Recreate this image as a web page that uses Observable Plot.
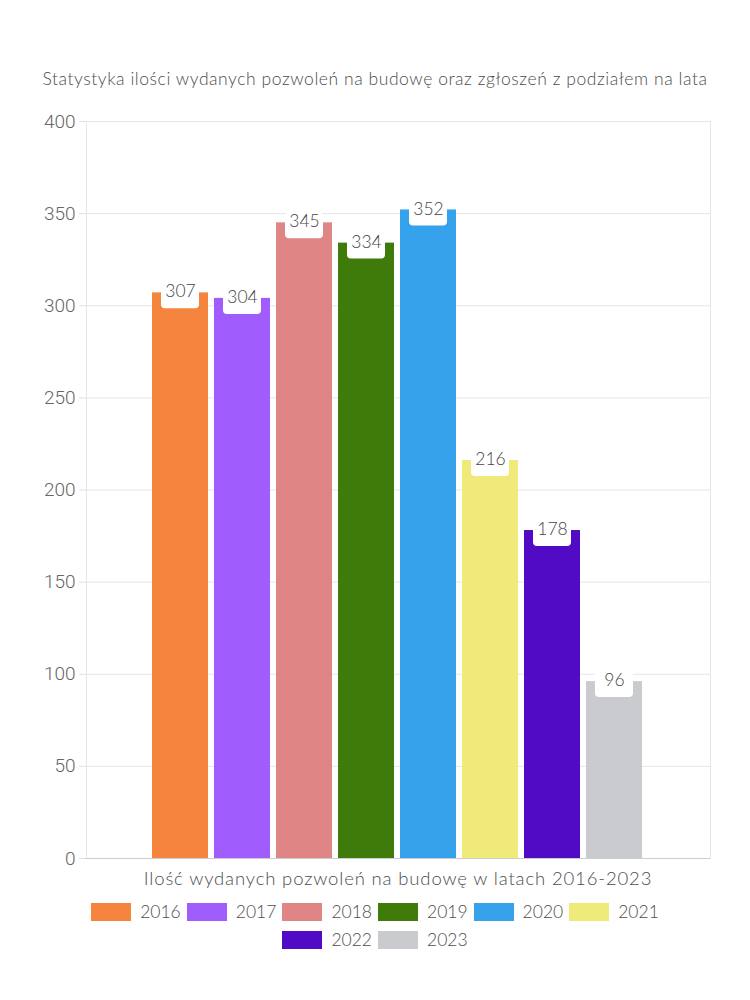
<!DOCTYPE html>
<html>
<head>
<meta charset="utf-8">
<script src="https://cdn.jsdelivr.net/npm/d3@7"></script>
<script src="https://cdn.jsdelivr.net/npm/@observablehq/plot@0.6"></script>
<style>
  html, body { margin: 0; padding: 0; background: #fff; }
  #wrap { position: relative; width: 750px; height: 1000px; font-family: Lato, "Noto Sans", sans-serif; font-weight: 300; color: #4d4d4d; }
  #title { position: absolute; left: 0; width: 750px; top: 68px; text-align: center; font-size: 17.5px; letter-spacing: 0.56px; }
  #chart { position: absolute; left: 0; top: 0; }
  #xlabel { position: absolute; left: 86px; width: 624px; top: 867px; text-align: center; font-size: 18.5px; letter-spacing: 0.85px; }
  .lrow { position: absolute; left: 0; width: 750px; display: flex; justify-content: center; font-size: 17.5px; }
  .item { display: flex; align-items: center; margin: 0 3px; }
  .sw { width: 40px; height: 18px; margin-right: 9px; }
</style>
</head>
<body>
<div id="wrap">
  <div id="title"></div>
  <div id="chart"></div>
  <div id="xlabel"></div>
  <div class="lrow" id="row1" style="top:901px"></div>
  <div class="lrow" id="row2" style="top:929px"></div>
</div>
<script>
const titleText = "Statystyka ilości wydanych pozwoleń na budowę oraz zgłoszeń z podziałem na lata";
const xLabelText = "Ilość wydanych pozwoleń na budowę w latach 2016-2023";
const years = ["2016", "2017", "2018", "2019", "2020", "2021", "2022", "2023"];
const values = [307, 304, 345, 334, 352, 216, 178, 96];
const colors = ["#f5843f", "#a05cfd", "#e08585", "#3e7b0b", "#36a2eb", "#f0ea7b", "#520bc4", "#c9cbcf"];
const yTicks = [0, 50, 100, 150, 200, 250, 300, 350, 400];

const data = years.map((y, i) => ({year: y, value: values[i], color: colors[i]}));

document.getElementById("title").textContent = titleText;
document.getElementById("xlabel").textContent = xLabelText;

const chart = Plot.plot({
  width: 750,
  height: 900,
  marginTop: 121,
  marginBottom: 42,
  marginLeft: 86,
  marginRight: 40,
  style: {fontFamily: "Lato, 'Noto Sans', sans-serif", background: "transparent"},
  x: {domain: years, insetLeft: 60.5, insetRight: 62.4, paddingInner: 0.09, paddingOuter: 0.045, axis: null},
  y: {domain: [0, 400], axis: null},
  marks: [
    Plot.gridY(yTicks, {stroke: "#e6e6e6", strokeOpacity: 1}),
    Plot.frame({stroke: "#e6e6e6", strokeOpacity: 1}),
    Plot.barY(data, {x: "year", y: "value", fill: "color"}),
    Plot.barY(data, {x: "year", y1: "value", y2: "value", fill: "#fff", insetTop: -10, insetBottom: -16, insetLeft: 9, insetRight: 9, rx: 4}),
    Plot.text(data, {x: "year", y: "value", text: d => String(d.value), fill: "#444", fontSize: 17.5, fontWeight: 300, dy: -1}),
    Plot.ruleY([0], {stroke: "#cccccc"}),
    Plot.axisY({ticks: yTicks, tickSize: 7, stroke: "#e0e0e0", strokeOpacity: 1, tickFormat: () => "", label: null}),
    Plot.axisY({ticks: yTicks, tickSize: 0, tickPadding: 11, fontSize: 19, fontWeight: 300, fill: "#666", fontFamily: "Roboto, 'Liberation Sans', sans-serif", label: null})
  ]
});
document.getElementById("chart").appendChild(chart);

function legendRow(id, idx) {
  const row = document.getElementById(id);
  idx.forEach(i => {
    const it = document.createElement("div");
    it.className = "item";
    const sw = document.createElement("div");
    sw.className = "sw";
    sw.style.background = colors[i];
    const t = document.createElement("span");
    t.textContent = years[i];
    it.appendChild(sw); it.appendChild(t);
    row.appendChild(it);
  });
}
legendRow("row1", [0,1,2,3,4,5]);
legendRow("row2", [6,7]);
</script>
</body>
</html>
